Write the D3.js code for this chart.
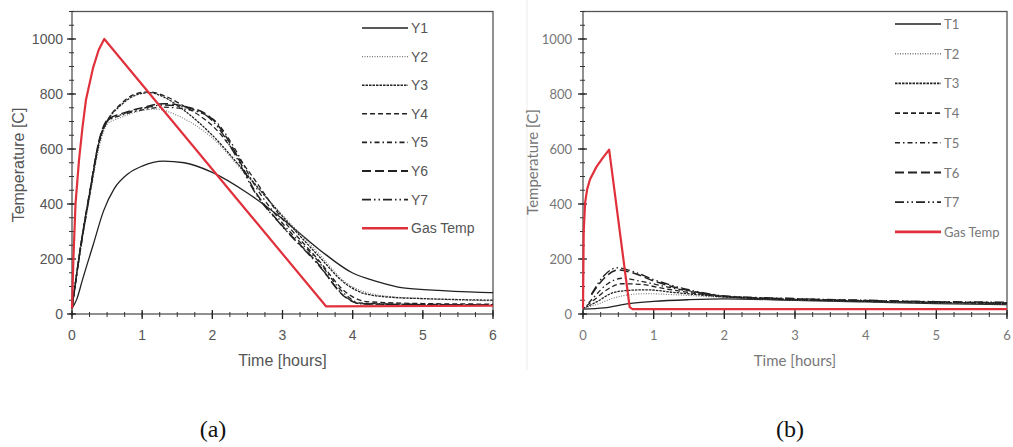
<!DOCTYPE html>
<html>
<head>
<meta charset="UTF-8" />
<title>Temperature</title>
<script src="https://cdn.jsdelivr.net/npm/d3@7"></script>
<style>
  html, body { margin: 0; padding: 0; background: #fff; }
  svg { display: block; }
  .tickA { font-family: "Liberation Sans", Arial, sans-serif; fill: #555; }
  .tickB { font-family: Lato, "Open Sans", sans-serif; fill: #777; }
  .cap { font-family: "Liberation Serif", "DejaVu Serif", serif; fill: #111; }
</style>
</head>
<body>
<div id="chart"></div>
<script>
// ---- panel (a) data: time [h] and temperature [C] ----
const gasA_t = [0, 0.02, 0.05, 0.1, 0.15, 0.2, 0.3, 0.38, 0.46, 3.62, 6];
const gasA_T = [20, 200, 400, 560, 680, 780, 895, 960, 1000, 28, 30];

const y1_t = [0, 0.07, 0.15, 0.3, 0.45, 0.6, 0.8, 1.0, 1.3, 1.6, 2.0, 2.5, 2.96, 3.53, 4.0, 4.35, 4.72, 5.2, 5.96, 6];
const y1_T = [20, 55, 125, 250, 375, 455, 510, 538, 556, 550, 515, 440, 354, 233, 149, 118, 95, 86, 78, 78];

const y2_t = [0, 0.1, 0.25, 0.4, 0.5, 0.7, 1.0, 1.2, 1.5, 2.0, 2.5, 3.0, 3.5, 3.9, 4.2, 4.6, 5, 6];
const y2_T = [20, 200, 420, 620, 690, 715, 740, 745, 722, 640, 500, 360, 225, 115, 78, 62, 56, 48];

const y3_t = [0, 0.1, 0.25, 0.4, 0.5, 0.7, 0.9, 1.1, 1.3, 1.6, 2.0, 2.5, 3.0, 3.5, 3.9, 4.2, 4.6, 5, 6];
const y3_T = [20, 210, 440, 640, 700, 760, 795, 805, 790, 740, 650, 505, 355, 215, 110, 72, 60, 56, 50];

const y4_t = [0, 0.1, 0.25, 0.4, 0.5, 0.7, 0.9, 1.1, 1.3, 1.6, 2.0, 2.5, 3.0, 3.5, 3.9, 4.2, 5, 6];
const y4_T = [20, 205, 435, 635, 700, 765, 800, 808, 795, 755, 685, 525, 345, 200, 80, 45, 38, 36];

const y5_t = [0, 0.1, 0.25, 0.4, 0.5, 0.7, 1.0, 1.3, 1.6, 1.9, 2.05, 2.3, 2.6, 3.0, 3.5, 3.9, 4.1, 5, 6];
const y5_T = [20, 200, 430, 640, 700, 722, 742, 752, 745, 725, 700, 610, 470, 330, 195, 70, 40, 35, 34];

const y6_t = [0, 0.1, 0.25, 0.4, 0.5, 0.7, 1.0, 1.3, 1.6, 1.95, 2.1, 2.3, 2.6, 3.0, 3.5, 3.9, 4.1, 5, 6];
const y6_T = [20, 205, 440, 645, 705, 728, 750, 765, 755, 720, 680, 600, 450, 320, 185, 60, 38, 34, 33];

const y7_t = [0, 0.1, 0.25, 0.4, 0.5, 0.7, 1.0, 1.3, 1.6, 1.95, 2.1, 2.3, 2.6, 3.0, 3.5, 3.9, 4.1, 5, 6];
const y7_T = [20, 200, 435, 640, 702, 725, 747, 760, 752, 715, 672, 590, 445, 318, 182, 62, 37, 34, 33];

// ---- panel (b) data ----
const gasB_t = [0, 0.01, 0.03, 0.06, 0.1, 0.19, 0.28, 0.37, 0.66, 0.7, 6];
const gasB_T = [20, 300, 405, 455, 490, 535, 568, 598, 25, 18, 18];

const t1_t = [0, 0.3, 0.65, 1, 1.5, 2, 3, 4, 5, 6];
const t1_T = [18, 22, 38, 46, 52, 55, 50, 44, 38, 34];

const t2_t = [0, 0.2, 0.4, 0.6, 0.9, 1.3, 2, 3, 4, 5, 6];
const t2_T = [20, 35, 55, 68, 74, 70, 60, 50, 45, 40, 36];

const t3_t = [0, 0.2, 0.4, 0.6, 0.9, 1.3, 2, 3, 4, 5, 6];
const t3_T = [20, 45, 75, 85, 88, 78, 62, 52, 46, 42, 38];

const t4_t = [0.05, 0.15, 0.35, 0.55, 0.8, 1.2, 2, 3, 4, 5, 6];
const t4_T = [30, 50, 90, 110, 108, 90, 63, 53, 47, 42, 39];

const t5_t = [0.08, 0.15, 0.35, 0.55, 0.8, 1.2, 2, 3, 4, 5, 6];
const t5_T = [40, 60, 110, 130, 120, 98, 64, 54, 48, 43, 40];

const t6_t = [0.12, 0.3, 0.5, 0.7, 1.0, 1.5, 2, 3, 4, 5, 6];
const t6_T = [70, 130, 160, 150, 120, 85, 65, 55, 49, 44, 41];

const t7_t = [0.12, 0.3, 0.48, 0.7, 1.0, 1.5, 2, 3, 4, 5, 6];
const t7_T = [72, 140, 168, 155, 125, 88, 66, 56, 50, 45, 43];

const xTicks = [0, 1, 2, 3, 4, 5, 6];
const yTicks = [0, 200, 400, 600, 800, 1000];
const namesA = ["Y1", "Y2", "Y3", "Y4", "Y5", "Y6", "Y7", "Gas Temp"];
const namesB = ["T1", "T2", "T3", "T4", "T5", "T6", "T7", "Gas Temp"];

// line styles shared by both panels (index matches series order)
const styles = [
  { dash: null, color: "#222", w: 1.3 },
  { dash: "1,1.5", color: "#777", w: 1.1 },
  { dash: "2.5,1", color: "#222", w: 1.3 },
  { dash: "5,3", color: "#222", w: 1.3 },
  { dash: "5,3,1.5,3", color: "#222", w: 1.3 },
  { dash: "9,4", color: "#222", w: 1.5 },
  { dash: "9,3,1.5,3,1.5,3", color: "#222", w: 1.4 },
  { dash: null, color: "#e0303b", w: 2.2 }
];

const W = 1013, H = 447;
const svg = d3.select("#chart").append("svg").attr("width", W).attr("height", H);

function pairs(ts, vs) { return ts.map((t, i) => [t, vs[i]]); }

function drawPanel(p) {
  const x = d3.scaleLinear().domain([0, 6]).range([p.left, p.right]);
  const y = d3.scaleLinear().domain([0, 1100]).range([314, 11.5]);
  const g = svg.append("g");

  // frame
  g.append("rect").attr("x", p.left).attr("y", y(1100)).attr("width", p.right - p.left)
    .attr("height", y(0) - y(1100)).attr("fill", "none").attr("stroke", "#555").attr("stroke-width", 1.3);

  // minor + major ticks
  const minorX = d3.range(0, 6.01, 0.25);
  g.selectAll(".mx").data(minorX).enter().append("line")
    .attr("x1", d => x(d)).attr("x2", d => x(d))
    .attr("y1", y(0) - 2).attr("y2", y(0) + 3)
    .attr("stroke", "#333").attr("stroke-width", 1);
  g.selectAll(".Mx").data(xTicks).enter().append("line")
    .attr("x1", d => x(d)).attr("x2", d => x(d))
    .attr("y1", y(0) - 4).attr("y2", y(0) + 5)
    .attr("stroke", "#222").attr("stroke-width", 1.3);
  const minorY = d3.range(0, 1101, 50);
  g.selectAll(".my").data(minorY).enter().append("line")
    .attr("x1", p.left - 3).attr("x2", p.left + 2)
    .attr("y1", d => y(d)).attr("y2", d => y(d))
    .attr("stroke", "#333").attr("stroke-width", 1);
  g.selectAll(".My").data(yTicks).enter().append("line")
    .attr("x1", p.left - 5).attr("x2", p.left + 4)
    .attr("y1", d => y(d)).attr("y2", d => y(d))
    .attr("stroke", "#222").attr("stroke-width", 1.3);

  // tick labels
  g.selectAll(".xl").data(xTicks).enter().append("text")
    .attr("class", p.font).attr("x", d => x(d)).attr("y", 335)
    .attr("text-anchor", "middle").attr("dominant-baseline", "central")
    .attr("font-size", p.tickSize).text(d => d);
  g.selectAll(".yl").data(yTicks).enter().append("text")
    .attr("class", p.font).attr("x", p.left - p.labelGap).attr("y", d => y(d))
    .attr("text-anchor", "end").attr("dominant-baseline", "central")
    .attr("font-size", p.tickSize).text(d => d);

  // axis titles
  g.append("text").attr("class", p.font).attr("x", (p.left + p.right) / 2).attr("y", 360)
    .attr("text-anchor", "middle").attr("dominant-baseline", "central")
    .attr("font-size", p.titleSize).text("Time [hours]");
  g.append("text").attr("class", p.font)
    .attr("transform", `translate(${p.yTitleX},${p.yTitleY}) rotate(-90)`)
    .attr("text-anchor", "middle").attr("dominant-baseline", "central")
    .attr("font-size", p.titleSize).text("Temperature [C]");

  // series
  const lineSmooth = d3.line().x(d => x(d[0])).y(d => y(d[1])).curve(d3.curveMonotoneX);
  const lineStraight = d3.line().x(d => x(d[0])).y(d => y(d[1]));
  const plot = g.append("g");
  plot.selectAll("path").data(p.series).enter().append("path")
    .attr("d", (d, i) => i === 7 ? lineStraight(d) : lineSmooth(d))
    .attr("fill", "none")
    .attr("stroke", (d, i) => styles[i].color)
    .attr("stroke-width", (d, i) => styles[i].w)
    .attr("stroke-dasharray", (d, i) => styles[i].dash)
    .attr("stroke-linejoin", "round");

  // legend
  const lg = g.append("g");
  p.names.forEach((n, i) => {
    const ly = p.legY + i * p.legStep;
    lg.append("line").attr("x1", p.legX).attr("x2", p.legX + 46)
      .attr("y1", ly).attr("y2", ly)
      .attr("stroke", styles[i].color).attr("stroke-width", i === 7 ? 2.6 : styles[i].w + 0.3)
      .attr("stroke-dasharray", styles[i].dash);
    lg.append("text").attr("class", p.font).attr("x", p.legX + 49).attr("y", ly)
      .attr("dominant-baseline", "central").attr("font-size", p.legSize).text(n);
  });

  // caption
  svg.append("text").attr("class", "cap").attr("x", p.capX).attr("y", 429)
    .attr("text-anchor", "middle").attr("dominant-baseline", "central")
    .attr("font-size", 24).text(p.cap);
}

// faint edge of the second picture
svg.append("line").attr("x1", 527).attr("x2", 527).attr("y1", 0).attr("y2", 370)
  .attr("stroke", "#ececec").attr("stroke-width", 1);

drawPanel({
  left: 72, right: 493, font: "tickA", tickSize: 14, titleSize: 16, labelGap: 9,
  yTitleX: 18, yTitleY: 165, legX: 362, legY: 28, legStep: 28.6, legSize: 14,
  names: namesA, cap: "(a)", capX: 213,
  series: [pairs(y1_t, y1_T), pairs(y2_t, y2_T), pairs(y3_t, y3_T), pairs(y4_t, y4_T),
           pairs(y5_t, y5_T), pairs(y6_t, y6_T), pairs(y7_t, y7_T), pairs(gasA_t, gasA_T)]
});

drawPanel({
  left: 583, right: 1007, font: "tickB", tickSize: 13, titleSize: 15, labelGap: 11,
  yTitleX: 532, yTitleY: 162, legX: 895, legY: 24, legStep: 29.7, legSize: 13,
  names: namesB, cap: "(b)", capX: 790,
  series: [pairs(t1_t, t1_T), pairs(t2_t, t2_T), pairs(t3_t, t3_T), pairs(t4_t, t4_T),
           pairs(t5_t, t5_T), pairs(t6_t, t6_T), pairs(t7_t, t7_T), pairs(gasB_t, gasB_T)]
});
</script>
</body>
</html>
